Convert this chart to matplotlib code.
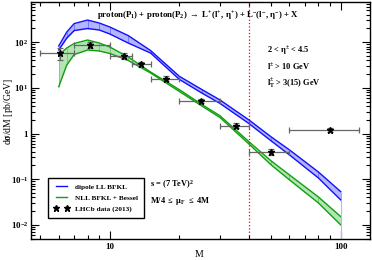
import matplotlib
matplotlib.use('Agg')
import matplotlib.pyplot as plt
from matplotlib.lines import Line2D
import numpy as np

# Bandas teoricas
m_grid = [6, 6.5, 7, 8, 9, 10, 12, 15, 20, 25, 30, 40, 50, 60, 80, 100]
blue_hi = [82.6, 167, 256, 306, 263, 215, 140, 65.8, 17.9, 9.23, 5.43, 1.99, 0.843, 0.438, 0.1445, 0.0535]
blue_lo = [67.5, 123, 180, 199.5, 185, 151, 96, 58, 15.3, 7.73, 4.56, 1.66, 0.689, 0.340, 0.1067, 0.0352]
green_hi = [52.5, 74.6, 93.7, 111.7, 96, 78.5, 47.4, 22.3, 9.14, 4.34, 2.45, 0.665, 0.251, 0.124, 0.041, 0.0152]
green_lo = [10.6, 31.7, 53.8, 67.5, 64.2, 56.6, 39.8, 21.2, 8.34, 4.02, 2.24, 0.592, 0.205, 0.0966, 0.0303, 0.0100]

# Datos LHCb (2013)
lhcb_m = [6.06, 8.2, 11.5, 13.7, 17.5, 24.9, 35.1, 49.8, 89.5]
lhcb_lo = [5.0, 7.0, 10.0, 12.5, 15.0, 20.0, 30.0, 40.0, 60.0]
lhcb_hi = [7.0, 10.0, 12.5, 15.0, 20.0, 30.0, 40.0, 60.0, 120.0]
lhcb_y = [57, 87, 50.7, 32.8, 15.9, 5.2, 1.49, 0.40, 1.2]
lhcb_err = [17, 14, 7, 4, 2, 0.6, 0.2, 0.06, 0.12]

ytick_vals = [1e-2, 1e-1, 1, 1e1, 1e2]
ytick_labels = ['$10^{-2}$', '$10^{-1}$', '1', '$10^{1}$', '$10^{2}$']
xtick_vals = [10, 100]
xtick_labels = ['10', '100']

plt.rcParams['font.family'] = 'serif'
plt.rcParams['font.serif'] = ['Liberation Serif', 'DejaVu Serif']
plt.rcParams['font.weight'] = 'bold'
plt.rcParams['mathtext.fontset'] = 'custom'
plt.rcParams['mathtext.rm'] = 'Liberation Serif:bold'
plt.rcParams['mathtext.it'] = 'Liberation Serif:bold'
plt.rcParams['mathtext.bf'] = 'Liberation Serif:bold'

fig = plt.figure(figsize=(3.72, 2.60), dpi=100)
ax = fig.add_axes([31 / 372, 21 / 260, 339 / 372, 237 / 260])
ax.set_xscale('log')
ax.set_yscale('log')
ax.set_xlim(4.55, 134)
ax.set_ylim(0.0049, 760)

# bandas
ax.fill_between(m_grid, blue_lo, blue_hi, color='#b4b4ff', lw=0)
ax.plot(m_grid, blue_hi, color='#1010ff', lw=1.0)
ax.plot(m_grid, blue_lo, color='#1010ff', lw=1.0)
ax.vlines(m_grid, blue_lo, blue_hi, color='#1010ff', lw=0.5, alpha=0.5)
ax.fill_between(m_grid, green_lo, green_hi, color='#b4e4b4', lw=0)
ax.plot(m_grid, green_hi, color='#10a010', lw=1.0)
ax.plot(m_grid, green_lo, color='#10a010', lw=1.0)
ax.vlines(m_grid, green_lo, green_hi, color='#10a010', lw=0.5, alpha=0.5)
ax.vlines(m_grid[-1], ax.get_ylim()[0], blue_lo[-1], color='#b4b4ff', lw=0.8)

# linea roja en M = 40
ax.axvline(40, color='red', ls=':', lw=0.9)

# datos
xm = np.array(lhcb_m)
xerr = [xm - np.array(lhcb_lo), np.array(lhcb_hi) - xm]
ax.errorbar(lhcb_m, lhcb_y, xerr=xerr, yerr=lhcb_err, fmt='none',
            ecolor='#666666', elinewidth=0.9, capsize=2.2, capthick=0.9)
ax.plot(lhcb_m, lhcb_y, ls='none', marker='*', color='black', ms=5)

ax.set_yticks(ytick_vals)
ax.set_yticklabels(ytick_labels)
ax.set_xticks(xtick_vals)
ax.set_xticklabels(xtick_labels)
ax.xaxis.set_minor_formatter(matplotlib.ticker.NullFormatter())
ax.tick_params(which='both', direction='in', top=True, right=True, width=0.8, labelsize=6.5, pad=2)
ax.tick_params(axis='x', which='major', pad=3)
ax.tick_params(which='major', length=5.5)
ax.tick_params(which='minor', length=2.8)
for s in ax.spines.values():
    s.set_linewidth(1.0)

ax.set_xlabel('M', fontsize=7, va='top')
ax.xaxis.set_label_coords(0.496, -0.046)
ax.set_ylabel(r'd$\sigma$/dM [pb/GeV]', fontsize=7)
ax.yaxis.set_label_coords(-0.048, 0.54)

ax.text(0.195, 0.941, r'proton(P$_1$) + proton(P$_2$) $\rightarrow$ L$^{+}$(l$^{+}$, $\eta^{+}$) + L$^{-}$(l$^{-}$, $\eta^{-}$) + X',
        transform=ax.transAxes, fontsize=6.3, va='center', ha='left')
ax.text(0.696, 0.793, r'2 < $\eta^{\pm}$ < 4.5', transform=ax.transAxes, fontsize=6, va='center')
ax.text(0.696, 0.726, r'l$^{\pm}$ > 10 GeV', transform=ax.transAxes, fontsize=6, va='center')
ax.text(0.696, 0.658, r'l$^{\pm}_{\rm T}$ > 3(15) GeV', transform=ax.transAxes, fontsize=6, va='center')
ax.text(0.351, 0.228, r's = (7 TeV)$^{2}$', transform=ax.transAxes, fontsize=6, va='center')
ax.text(0.351, 0.160, r'M/4 $\leq$ $\mu_{\rm F}$ $\leq$ 4M', transform=ax.transAxes, fontsize=6, va='center')

handles = [Line2D([], [], color='#1010ff', lw=1.0),
           Line2D([], [], color='#10a010', lw=1.0),
           Line2D([], [], ls='none', marker='*', color='black', ms=4.5)]
labels = ['dipole LL BFKL', 'NLL BFKL + Bessel', 'LHCb data (2013)']
leg = ax.legend(handles, labels, loc='lower left', bbox_to_anchor=(0.05, 0.0886),
                borderaxespad=0, fontsize=5.2, numpoints=2, handlelength=2.2,
                fancybox=False, framealpha=1, edgecolor='black', labelspacing=0.7,
                borderpad=0.8, handletextpad=0.8)
leg.get_frame().set_linewidth(1.0)

fig.savefig('out.png', dpi=100)
